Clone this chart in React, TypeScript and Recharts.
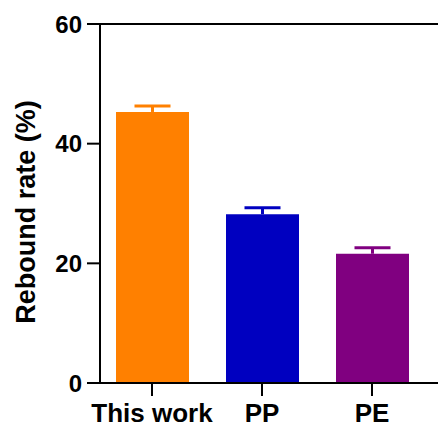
import React from "react";
import { BarChart, Bar, XAxis, YAxis, Cell, ReferenceLine, Rectangle } from "recharts";

const materials = ["This work", "PP", "PE"];
const reboundRate = [45.3, 28.2, 21.6];
const reboundError = [1.0, 1.1, 1.0];
const barColors = ["#FF8000", "#0000C0", "#800080"];
const yTicks = [0, 20, 40, 60];

const data = materials.map((name, i) => ({
  name,
  value: reboundRate[i],
  err: reboundError[i],
}));

const font = "'Liberation Sans', Arial, sans-serif";

// bar with an upper-only error whisker in the bar's own colour
const BarWithCap = (props: any) => {
  const { x, y, width, height, fill, payload } = props;
  const pxPerUnit = height / payload.value;
  const top = y - payload.err * pxPerUnit;
  const cx = x + width / 2;
  return (
    <g>
      <Rectangle x={x} y={y} width={width} height={height} fill={fill} />
      <line x1={cx} x2={cx} y1={y} y2={top} stroke={fill} strokeWidth={3} />
      <line x1={cx - 18} x2={cx + 18} y1={top} y2={top} stroke={fill} strokeWidth={3} />
    </g>
  );
};

const YLabel = () => (
  <text
    x={26}
    y={212}
    transform="rotate(-90, 26, 212)"
    textAnchor="middle"
    dominantBaseline="central"
    fontFamily={font}
    fontWeight="bold"
    fontSize={27}
    fill="#000"
  >
    Rebound rate (%)
  </text>
);

const App: React.FC = () => {
  return (
    <div style={{ width: 438, height: 427, background: "#fff" }}>
      <style>{`body { margin: 0; }`}</style>
      <BarChart
        width={438}
        height={427}
        data={data}
        margin={{ top: 24, right: 0, left: 0, bottom: 0 }}
        barSize={73}
      >
        <XAxis
          dataKey="name"
          height={44}
          padding={{ left: -3, right: 11 }}
          tickSize={13}
          tickMargin={8}
          axisLine={{ stroke: "#000", strokeWidth: 2 }}
          tickLine={{ stroke: "#000", strokeWidth: 2 }}
          tick={{ fill: "#000", fontSize: 26, fontWeight: "bold", fontFamily: font }}
          interval={0}
        />
        <YAxis
          width={100}
          domain={[0, 60]}
          ticks={yTicks}
          tickSize={13}
          tickMargin={5}
          axisLine={{ stroke: "#000", strokeWidth: 2 }}
          tickLine={{ stroke: "#000", strokeWidth: 2 }}
          tick={{ fill: "#000", fontSize: 24, fontWeight: "bold", fontFamily: font }}
          label={<YLabel />}
        />
        <ReferenceLine y={60} stroke="#000" strokeWidth={2} />
        <Bar dataKey="value" isAnimationActive={false} shape={<BarWithCap />}>
          {data.map((d, i) => (
            <Cell key={d.name} fill={barColors[i]} />
          ))}
        </Bar>
      </BarChart>
    </div>
  );
};

export default App;
